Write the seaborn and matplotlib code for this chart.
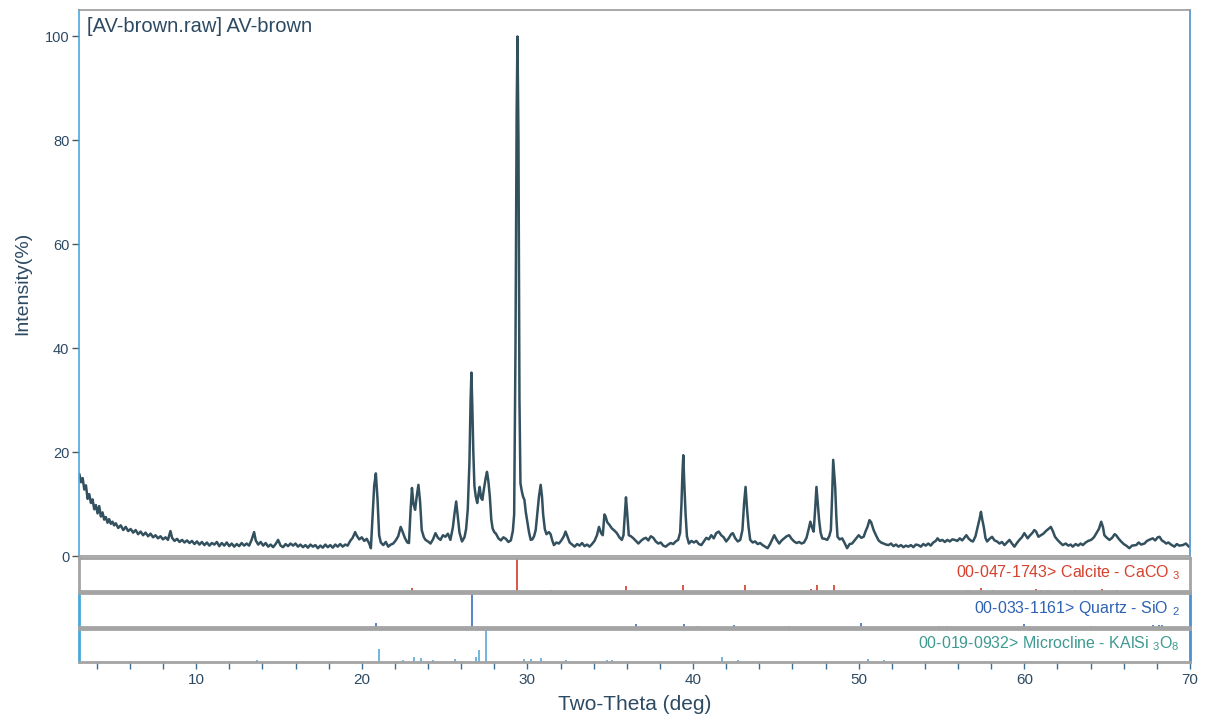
import matplotlib
matplotlib.use("Agg")
import matplotlib.pyplot as plt
import seaborn as sns
import pandas as pd

# Measured pattern: 2-theta (deg) and relative intensity (%)
two_theta = [
    2.95, 3.05, 3.15, 3.25, 3.35, 3.45, 3.55, 3.65, 3.75, 3.85, 3.95, 4.05, 4.15, 4.25, 4.35,
    4.45, 4.55, 4.65, 4.75, 4.85, 4.95, 5.05, 5.15, 5.3, 5.45, 5.6, 5.75, 5.9, 6.05, 6.2,
    6.35, 6.5, 6.65, 6.8, 6.95, 7.1, 7.25, 7.4, 7.55, 7.7, 7.85, 8.0, 8.15, 8.3, 8.45,
    8.55, 8.7, 8.85, 9.0, 9.15, 9.3, 9.45, 9.6, 9.75, 9.9, 10.05, 10.2, 10.35, 10.5, 10.65,
    10.8, 10.95, 11.1, 11.25, 11.4, 11.55, 11.7, 11.85, 12.0, 12.15, 12.3, 12.45, 12.6, 12.75, 12.9,
    13.05, 13.2, 13.35, 13.5, 13.6, 13.75, 13.9, 14.05, 14.2, 14.35, 14.5, 14.65, 14.8, 14.95, 15.1,
    15.25, 15.4, 15.55, 15.7, 15.85, 16.0, 16.15, 16.3, 16.45, 16.6, 16.75, 16.9, 17.05, 17.2, 17.35,
    17.5, 17.65, 17.8, 17.95, 18.1, 18.25, 18.4, 18.55, 18.7, 18.85, 19.0, 19.15, 19.3, 19.45, 19.6,
    19.7, 19.85, 20.0, 20.15, 20.3, 20.45, 20.55, 20.65, 20.75, 20.85, 20.95, 21.05, 21.15, 21.3, 21.45,
    21.6, 21.75, 21.9, 22.05, 22.2, 22.35, 22.45, 22.6, 22.75, 22.85, 22.95, 23.03, 23.12, 23.22, 23.32,
    23.42, 23.52, 23.62, 23.75, 23.85, 24.0, 24.15, 24.3, 24.45, 24.6, 24.75, 24.9, 25.05, 25.2, 25.35,
    25.5, 25.6, 25.7, 25.8, 25.9, 26.05, 26.2, 26.3, 26.4, 26.5, 26.57, 26.62, 26.68, 26.73, 26.8,
    26.88, 26.97, 27.05, 27.12, 27.2, 27.28, 27.38, 27.48, 27.56, 27.64, 27.73, 27.82, 27.9, 28.0, 28.1,
    28.25, 28.4, 28.55, 28.7, 28.85, 29.0, 29.12, 29.2, 29.28, 29.35, 29.4, 29.46, 29.52, 29.58, 29.66,
    29.74, 29.82, 29.9, 30.0, 30.1, 30.2, 30.3, 30.4, 30.5, 30.6, 30.7, 30.8, 30.88, 30.95, 31.05,
    31.15, 31.3, 31.4, 31.5, 31.6, 31.75, 31.9, 32.05, 32.2, 32.3, 32.4, 32.55, 32.7, 32.85, 33.0,
    33.15, 33.3, 33.45, 33.6, 33.75, 33.9, 34.05, 34.2, 34.32, 34.45, 34.55, 34.65, 34.72, 34.82, 34.95,
    35.1, 35.25, 35.4, 35.55, 35.7, 35.8, 35.87, 35.95, 36.03, 36.12, 36.25, 36.4, 36.55, 36.7, 36.85,
    37.0, 37.15, 37.3, 37.45, 37.6, 37.75, 37.9, 38.05, 38.2, 38.35, 38.5, 38.65, 38.8, 38.95, 39.1,
    39.22, 39.3, 39.36, 39.41, 39.47, 39.55, 39.63, 39.75, 39.9, 40.05, 40.2, 40.35, 40.5, 40.65, 40.8,
    40.95, 41.1, 41.25, 41.4, 41.55, 41.7, 41.85, 42.0, 42.15, 42.3, 42.4, 42.55, 42.7, 42.85, 42.98,
    43.08, 43.17, 43.26, 43.35, 43.45, 43.6, 43.75, 43.9, 44.05, 44.2, 44.35, 44.5, 44.65, 44.8, 44.9,
    45.05, 45.2, 45.35, 45.5, 45.65, 45.8, 45.95, 46.1, 46.25, 46.4, 46.55, 46.7, 46.85, 46.98, 47.08,
    47.18, 47.28, 47.36, 47.45, 47.53, 47.61, 47.7, 47.8, 47.95, 48.1, 48.22, 48.32, 48.4, 48.46, 48.52,
    48.58, 48.65, 48.72, 48.85, 49.0, 49.15, 49.3, 49.45, 49.6, 49.75, 49.9, 50.0, 50.15, 50.3, 50.42,
    50.53, 50.65, 50.75, 50.9, 51.04, 51.2, 51.35, 51.5, 51.65, 51.8, 51.95, 52.1, 52.25, 52.4, 52.55,
    52.7, 52.85, 53.0, 53.15, 53.3, 53.45, 53.6, 53.75, 53.9, 54.05, 54.2, 54.35, 54.5, 54.65, 54.76,
    54.9, 55.05, 55.2, 55.35, 55.5, 55.65, 55.8, 55.95, 56.1, 56.25, 56.4, 56.5, 56.65, 56.8, 56.9,
    57.05, 57.18, 57.3, 57.38, 57.46, 57.55, 57.65, 57.75, 57.9, 58.05, 58.2, 58.35, 58.5, 58.65, 58.8,
    58.95, 59.1, 59.25, 59.4, 59.55, 59.7, 59.85, 60.0, 60.1, 60.2, 60.35, 60.5, 60.6, 60.71, 60.85,
    61.0, 61.15, 61.3, 61.45, 61.6, 61.72, 61.85, 62.0, 62.15, 62.32, 62.5, 62.65, 62.8, 62.92, 63.1,
    63.25, 63.4, 63.53, 63.7, 63.85, 64.03, 64.2, 64.35, 64.5, 64.64, 64.75, 64.83, 64.98, 65.14, 65.3,
    65.45, 65.54, 65.7, 65.84, 66.0, 66.15, 66.34, 66.5, 66.75, 66.9, 67.05, 67.25, 67.4, 67.6, 67.75,
    67.9, 68.05, 68.16, 68.3, 68.45, 68.56, 68.7, 68.85, 69.06, 69.2, 69.35, 69.57, 69.75, 69.93,
]
intensity = [
    15.8, 14.2, 15.0, 12.8, 13.6, 11.0, 11.9, 10.2, 10.9, 9.0, 9.8, 8.2, 9.6, 7.6, 8.4,
    7.0, 7.5, 6.4, 7.1, 6.2, 6.6, 5.9, 6.3, 5.4, 5.9, 5.0, 5.6, 4.8, 5.2, 4.5,
    5.0, 4.2, 4.7, 4.0, 4.5, 3.8, 4.3, 3.6, 4.0, 3.4, 3.8, 3.2, 3.6, 3.1, 4.8,
    3.5, 2.9, 3.3, 2.7, 3.1, 2.6, 3.0, 2.5, 2.9, 2.3, 2.8, 2.2, 2.7, 2.1, 2.6,
    2.0, 2.5, 2.2, 2.7, 1.9, 2.5, 2.0, 2.6, 1.9, 2.4, 1.8, 2.3, 1.9, 2.5, 2.0,
    2.4, 2.0, 3.1, 4.6, 3.0, 2.2, 2.7, 2.0, 2.5, 1.8, 2.2, 1.7, 2.3, 3.1, 2.0,
    1.7, 2.3, 1.9, 2.4, 2.0, 2.4, 1.8, 2.2, 1.7, 2.1, 1.6, 2.2, 1.8, 2.1, 1.5,
    2.0, 1.6, 2.2, 1.7, 2.1, 1.6, 2.2, 1.8, 2.3, 1.8, 2.2, 2.0, 2.9, 3.5, 4.6,
    3.9, 3.2, 3.6, 2.9, 3.3, 2.4, 1.5, 7.5, 13.5, 15.9, 11.0, 4.0, 2.6, 2.1, 2.7,
    1.8, 2.2, 2.4, 3.0, 3.8, 5.6, 4.8, 3.5, 2.6, 2.5, 9.0, 13.1, 10.0, 8.9, 11.5,
    13.7, 10.5, 5.0, 3.6, 3.1, 2.8, 2.4, 3.2, 4.4, 3.5, 3.1, 4.0, 3.7, 4.3, 3.1,
    5.5, 8.2, 10.5, 7.5, 4.5, 2.8, 3.6, 5.2, 9.0, 18.0, 30.0, 35.3, 28.0, 20.5, 13.5,
    11.5, 10.2, 12.0, 13.3, 11.2, 10.8, 13.0, 15.0, 16.2, 14.5, 11.5, 7.0, 5.3, 4.6, 4.3,
    3.4, 3.0, 3.6, 3.3, 2.7, 3.0, 4.8, 8.0, 40.0, 85.0, 100.0, 80.0, 30.0, 14.0, 12.5,
    11.4, 10.8, 8.5, 6.5, 4.5, 3.1, 3.2, 3.8, 5.0, 8.2, 11.5, 13.7, 11.5, 8.0, 5.2,
    4.2, 4.6, 4.2, 3.0, 2.1, 2.6, 2.4, 3.0, 3.8, 4.7, 3.9, 2.6, 2.2, 1.8, 2.3,
    2.0, 2.5, 1.9, 2.2, 1.8, 2.3, 2.9, 4.0, 5.6, 4.4, 4.0, 8.0, 7.6, 6.5, 6.0,
    5.3, 4.9, 4.4, 3.6, 3.1, 4.0, 7.5, 11.3, 8.0, 4.0, 3.8, 3.4, 2.9, 2.4, 2.9,
    3.3, 3.5, 3.0, 3.8, 3.5, 2.8, 2.4, 2.6, 2.0, 1.8, 2.2, 2.5, 2.3, 2.8, 3.1,
    4.5, 10.0, 16.0, 19.4, 14.0, 8.0, 3.8, 2.4, 2.9, 2.6, 2.9, 2.3, 2.1, 2.8, 3.5,
    3.2, 4.0, 3.4, 4.4, 4.7, 4.0, 3.6, 2.8, 3.4, 4.2, 4.4, 3.4, 2.8, 3.1, 5.0,
    10.1, 13.3, 9.0, 5.6, 3.1, 2.6, 2.8, 2.3, 2.5, 2.1, 1.8, 1.5, 2.3, 3.3, 4.0,
    3.1, 2.4, 3.0, 3.4, 3.8, 4.0, 3.3, 2.8, 2.5, 2.7, 2.4, 2.6, 3.5, 5.2, 6.6,
    5.5, 4.7, 8.5, 13.3, 10.0, 6.9, 4.5, 3.4, 3.3, 3.1, 3.8, 5.0, 12.0, 18.5, 16.0,
    13.3, 7.5, 3.7, 3.2, 3.4, 2.5, 1.5, 2.3, 2.4, 3.0, 3.6, 4.0, 3.5, 3.7, 4.8,
    5.6, 6.9, 6.5, 5.0, 4.0, 3.0, 2.6, 2.4, 2.2, 2.1, 2.4, 1.9, 2.2, 1.8, 2.1,
    1.7, 2.0, 1.8, 2.1, 1.7, 2.2, 2.1, 1.8, 2.3, 2.0, 2.4, 2.0, 2.6, 2.9, 3.4,
    2.9, 3.1, 2.7, 3.1, 2.8, 3.2, 3.1, 2.9, 3.4, 3.0, 3.6, 4.0, 3.3, 2.9, 2.8,
    3.8, 5.6, 7.2, 8.5, 7.0, 5.6, 3.5, 2.8, 3.3, 3.7, 3.0, 2.8, 2.4, 2.7, 2.1,
    2.6, 3.1, 2.4, 1.8, 2.5, 3.1, 3.6, 4.4, 3.9, 3.4, 4.0, 4.5, 5.0, 4.7, 3.7,
    4.0, 4.3, 4.8, 5.2, 5.6, 4.8, 3.7, 3.1, 2.6, 2.1, 2.4, 2.0, 2.2, 1.8, 2.3,
    2.0, 2.4, 2.1, 2.6, 2.9, 3.1, 3.6, 4.4, 5.2, 6.6, 5.5, 4.0, 3.5, 3.1, 3.5,
    4.2, 4.0, 3.3, 2.8, 2.3, 2.0, 1.5, 2.0, 2.1, 2.6, 2.2, 2.4, 2.9, 3.2, 3.4,
    3.0, 3.6, 3.7, 3.0, 2.7, 2.4, 2.6, 2.2, 1.8, 2.3, 2.0, 2.1, 2.4, 1.8,
]

# Reference patterns (stick positions in deg, relative intensities in %)
calcite_pos = [23.02, 29.40, 31.42, 35.97, 39.41, 43.16, 47.12, 47.49, 48.51,
               56.57, 57.41, 58.10, 60.68, 61.00, 61.40, 63.07, 64.68, 65.62]
calcite_int = [8, 100, 3, 14, 18, 18, 6, 17, 17, 3, 8, 3, 5, 2, 3, 2, 5, 3]

quartz_pos = [20.86, 26.64, 36.54, 39.47, 40.29, 42.45, 45.79, 50.14, 54.87,
              55.33, 59.96, 64.03, 67.74, 68.14, 68.31]
quartz_int = [12, 100, 9, 8, 4, 6, 4, 13, 4, 2, 9, 2, 6, 7, 5]

microcline_pos = [13.70, 21.03, 22.50, 23.18, 23.56, 24.28, 25.60, 26.88, 27.07,
                  27.50, 29.80, 30.20, 30.80, 32.30, 34.80, 35.10, 41.75, 42.70,
                  50.55, 51.50]
microcline_int = [5, 38, 6, 15, 12, 6, 8, 15, 35, 100, 8, 10, 12, 6, 5, 5, 14, 6, 10, 5]

phase_labels = [
    r"00-047-1743> Calcite - CaCO $_3$",
    r"00-033-1161> Quartz - SiO $_2$",
    r"00-019-0932> Microcline - KAlSi $_3$O$_8$",
]
phase_colors = ["#d6402c", "#2f62b3", "#3e9a92"]
stick_colors = ["#d23a26", "#3b6fc0", "#5aa8d8"]

x_major = [10, 20, 30, 40, 50, 60, 70]
y_major = [0, 20, 40, 60, 80, 100]

sns.set_theme(style="white")
plt.rcParams["font.family"] = ["Liberation Sans", "DejaVu Sans"]
plt.rcParams["mathtext.fontset"] = "custom"
plt.rcParams["mathtext.rm"] = "Liberation Sans"

W, H = 1206, 719
fig = plt.figure(figsize=(W / 100, H / 100), dpi=100)


def px_axes(left, top, right, bottom):
    return fig.add_axes([left / W, 1 - bottom / H, (right - left) / W, (bottom - top) / H])


XMIN, XMAX = 2.93, 70.0
text_col = "#2d4a63"
frame_gray = "#9a9a9a"

# Main diffractogram
ax = px_axes(79, 10, 1190, 556)
df = pd.DataFrame({"two_theta": two_theta, "intensity": intensity})
sns.lineplot(data=df, x="two_theta", y="intensity", ax=ax, color="#33505f",
             linewidth=1.8, estimator=None, sort=False)
ax.set_xlim(XMIN, XMAX)
ax.set_ylim(0, 105.1)
ax.set_xticks([])
ax.set_yticks(y_major)
ax.tick_params(axis="y", direction="out", length=5, width=1, colors="#555555",
               labelcolor=text_col, labelsize=10.5, pad=2, left=True)
ax.set_xlabel("")
ax.set_ylabel("Intensity(%)", fontsize=14, color=text_col, labelpad=10)
ax.spines["left"].set_color("#4aa8dc")
ax.spines["right"].set_color("#4a90cf")
ax.spines["top"].set_color(frame_gray)
ax.spines["bottom"].set_color(frame_gray)
for s in ax.spines.values():
    s.set_linewidth(1.2)
ax.text(0.007, 0.988, "[AV-brown.raw] AV-brown", transform=ax.transAxes,
        ha="left", va="top", fontsize=14.5, color=text_col)

# Reference stick panels
strip_boxes = [(558, 591), (593, 627), (629, 662)]
pos_sets = [calcite_pos, quartz_pos, microcline_pos]
int_sets = [calcite_int, quartz_int, microcline_int]
for i, (top, bottom) in enumerate(strip_boxes):
    sax = px_axes(79, top, 1190, bottom)
    sax.vlines(pos_sets[i], 0, int_sets[i], color=stick_colors[i], linewidth=1.2)
    sax.set_xlim(XMIN, XMAX)
    sax.set_ylim(0, 100)
    sax.set_yticks([])
    for s in sax.spines.values():
        s.set_color("#a4a4a4")
        s.set_linewidth(2.0)
    if i > 0:
        sax.spines["left"].set_color("#4aa8dc")
        sax.spines["right"].set_color("#4a90cf")
    sax.text(0.991, 0.55, phase_labels[i], transform=sax.transAxes, ha="right",
             va="center", fontsize=11.5, color=phase_colors[i])
    if i < 2:
        sax.set_xticks([])
    else:
        sax.set_xticks(x_major)
        sax.set_xticks(list(range(4, 70, 2)), minor=True)
        sax.tick_params(axis="x", which="both", direction="out", length=5, width=1,
                        colors="#3d6f95", labelcolor=text_col, labelsize=11,
                        pad=3, bottom=True)
        sax.set_xlabel("Two-Theta (deg)", fontsize=15, color=text_col, labelpad=6)

fig.savefig("out.png", dpi=100)
